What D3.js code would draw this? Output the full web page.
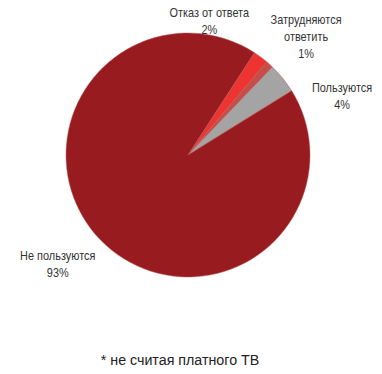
<!DOCTYPE html>
<html>
<head>
<meta charset="utf-8">
<script src="https://cdn.jsdelivr.net/npm/d3@7"></script>
<style>
  body { margin: 0; background: #fff; }
  svg text { font-family: "Liberation Sans", Arial, sans-serif; fill: #333; }
</style>
</head>
<body>
<div class="chart"></div>
<script>
// data, clockwise order starting from the red slice
const categories = ["Отказ от ответа", "Затрудняются ответить", "Пользуются", "Не пользуются"]
const values = [2, 1, 4, 93]
const labelLines = [
  ["Отказ от ответа", "2%"],
  ["Затрудняются", "ответить", "1%"],
  ["Пользуются", "4%"],
  ["Не пользуются", "93%"]
]
const footnote = "* не считая платного ТВ"

const colors = ["#ee3330", "#c64d48", "#a4a4a4", "#981b1f"]

const width = 382
const height = 374
const cx = 188
const cy = 155
const radius = 122

// where each label block is drawn (angle in degrees from 12 o'clock, distance from centre)
const labelPlace = [
  {ang: 9, dist: 136},
  {ang: 45, dist: 167},
  {ang: 69, dist: 165},
  {ang: 230, dist: 170}
]
const lineH = 17

const svg = d3.select(".chart").append("svg")
  .attr("width", width)
  .attr("height", height)

const pie = d3.pie()
  .sort(null)
  .startAngle(33 * Math.PI / 180)
  .endAngle(33 * Math.PI / 180 + 2 * Math.PI)
  .value(d => d)

const arc = d3.arc().innerRadius(0).outerRadius(radius)

const g = svg.append("g").attr("transform", `translate(${cx},${cy})`)

g.selectAll("path")
  .data(pie(values))
  .enter()
  .append("path")
  .attr("d", arc)
  .attr("fill", (d, i) => colors[i])
  .attr("stroke", "#b85a58")
  .attr("stroke-width", 0.5)

const labels = g.selectAll("g.label")
  .data(labelLines)
  .enter()
  .append("g")
  .attr("class", "label")
  .attr("transform", (d, i) => {
    const a = labelPlace[i].ang * Math.PI / 180
    const r = labelPlace[i].dist
    return `translate(${r * Math.sin(a)},${-r * Math.cos(a)}) scale(0.84,1)`
  })

labels.each(function(lines) {
  const sel = d3.select(this)
  const off = -(lines.length - 1) * lineH / 2
  lines.forEach((t, j) => {
    sel.append("text")
      .attr("text-anchor", "middle")
      .attr("y", off + j * lineH)
      .attr("dy", "0.35em")
      .attr("font-size", "13px")
      .text(t)
  })
})

svg.append("text")
  .attr("transform", "translate(180,360) scale(0.92,1)")
  .attr("dy", "0.35em")
  .attr("text-anchor", "middle")
  .attr("font-size", "15.5px")
  .style("fill", "#222")
  .text(footnote)
</script>
</body>
</html>
